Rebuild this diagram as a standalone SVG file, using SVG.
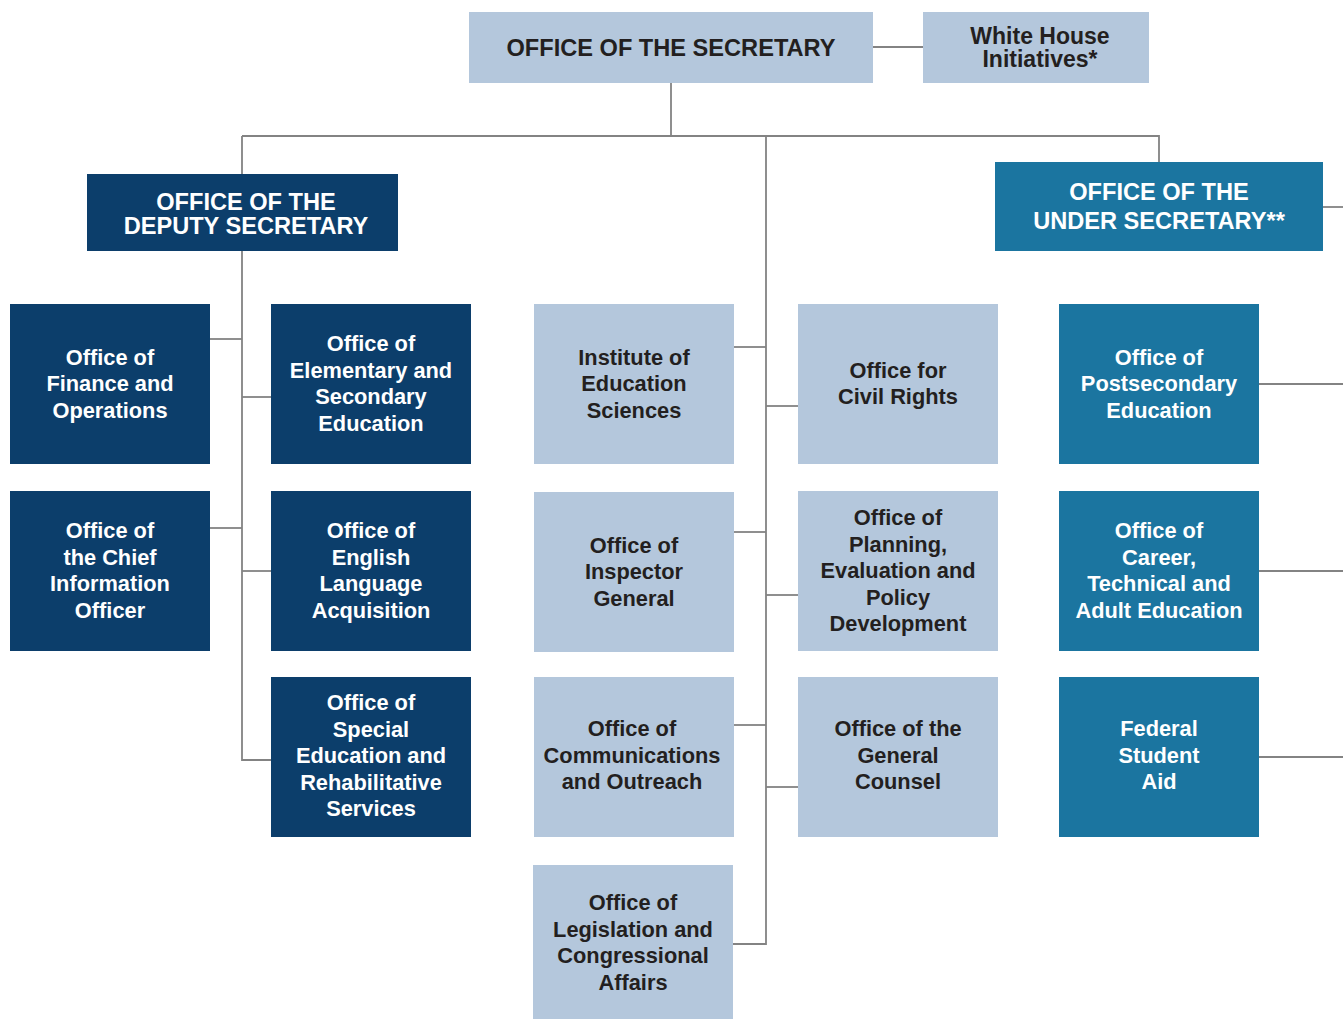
<svg xmlns="http://www.w3.org/2000/svg" width="1343" height="1019" viewBox="0 0 1343 1019">
<style>
.light{fill:#b4c7dc}
.navy{fill:#0c3e6b}
.teal{fill:#1b75a0}
text{font-family:"Liberation Sans",Arial,sans-serif;font-weight:bold;text-anchor:middle}
.n{font-size:21.8px}
.t{font-size:23.6px}
.dk{fill:#231f20}
.wt{fill:#ffffff}
.c{stroke:#838383;stroke-width:1.8;fill:none}
</style>
<rect width="1343" height="1019" fill="#ffffff"/>
<g id="connectors" class="c">
<path d="M873 47H923"/>
<path d="M671 83V136"/>
<path d="M242 136H1159V162"/>
<path d="M242 136V760H271"/>
<path d="M766 136V944H733"/>
<path d="M1323 207H1343"/>
<path d="M210 339H242"/>
<path d="M242 397H271"/>
<path d="M210 528H242"/>
<path d="M242 571H271"/>
<path d="M734 347H766"/>
<path d="M766 406H798"/>
<path d="M734 532H766"/>
<path d="M766 595H798"/>
<path d="M734 725H766"/>
<path d="M766 787H798"/>
<path d="M1259 384H1343"/>
<path d="M1259 571H1343"/>
<path d="M1259 757H1343"/>
</g>
<g id="secretary"><rect class="light" x="469" y="12" width="404" height="71"/><text class="t dk" x="671" y="55.5">OFFICE OF THE SECRETARY</text></g>
<g id="white-house"><rect class="light" x="923" y="12" width="226" height="71"/><text class="dk" style="font-size:23px"><tspan x="1040" y="43.5">White House</tspan><tspan x="1040" y="67">Initiatives*</tspan></text></g>
<g id="deputy"><rect class="navy" x="87" y="174" width="311" height="77"/><text class="t wt"><tspan x="246" y="210">OFFICE OF THE</tspan><tspan x="246" y="234">DEPUTY SECRETARY</tspan></text></g>
<g id="under"><rect class="teal" x="995" y="162" width="328" height="89"/><text class="t wt"><tspan x="1159" y="199.5">OFFICE OF THE</tspan><tspan x="1159" y="229">UNDER SECRETARY**</tspan></text></g>
<g id="finance"><rect class="navy" x="10" y="304" width="200" height="160"/><text class="n wt"><tspan x="110" y="364.5">Office of</tspan><tspan x="110" y="391">Finance and</tspan><tspan x="110" y="417.5">Operations</tspan></text></g>
<g id="elementary"><rect class="navy" x="271" y="304" width="200" height="160"/><text class="n wt"><tspan x="371" y="351.25">Office of</tspan><tspan x="371" y="377.75">Elementary and</tspan><tspan x="371" y="404.25">Secondary</tspan><tspan x="371" y="430.75">Education</tspan></text></g>
<g id="cio"><rect class="navy" x="10" y="491" width="200" height="160"/><text class="n wt"><tspan x="110" y="538.25">Office of</tspan><tspan x="110" y="564.75">the Chief</tspan><tspan x="110" y="591.25">Information</tspan><tspan x="110" y="617.75">Officer</tspan></text></g>
<g id="english"><rect class="navy" x="271" y="491" width="200" height="160"/><text class="n wt"><tspan x="371" y="538.25">Office of</tspan><tspan x="371" y="564.75">English</tspan><tspan x="371" y="591.25">Language</tspan><tspan x="371" y="617.75">Acquisition</tspan></text></g>
<g id="special-ed"><rect class="navy" x="271" y="677" width="200" height="160"/><text class="n wt"><tspan x="371" y="710">Office of</tspan><tspan x="371" y="736.5">Special</tspan><tspan x="371" y="763">Education and</tspan><tspan x="371" y="789.5">Rehabilitative</tspan><tspan x="371" y="816">Services</tspan></text></g>
<g id="ies"><rect class="light" x="534" y="304" width="200" height="160"/><text class="n dk"><tspan x="634" y="364.5">Institute of</tspan><tspan x="634" y="391">Education</tspan><tspan x="634" y="417.5">Sciences</tspan></text></g>
<g id="civil-rights"><rect class="light" x="798" y="304" width="200" height="160"/><text class="n dk"><tspan x="898" y="377.75">Office for</tspan><tspan x="898" y="404.25">Civil Rights</tspan></text></g>
<g id="oig"><rect class="light" x="534" y="492" width="200" height="160"/><text class="n dk"><tspan x="634" y="552.5">Office of</tspan><tspan x="634" y="579">Inspector</tspan><tspan x="634" y="605.5">General</tspan></text></g>
<g id="opepd"><rect class="light" x="798" y="491" width="200" height="160"/><text class="n dk"><tspan x="898" y="525">Office of</tspan><tspan x="898" y="551.5">Planning,</tspan><tspan x="898" y="578">Evaluation and</tspan><tspan x="898" y="604.5">Policy</tspan><tspan x="898" y="631">Development</tspan></text></g>
<g id="communications"><rect class="light" x="534" y="677" width="200" height="160"/><text class="n dk"><tspan x="632" y="736">Office of</tspan><tspan x="632" y="762.5">Communications</tspan><tspan x="632" y="789">and Outreach</tspan></text></g>
<g id="general-counsel"><rect class="light" x="798" y="677" width="200" height="160"/><text class="n dk"><tspan x="898" y="736">Office of the</tspan><tspan x="898" y="762.5">General</tspan><tspan x="898" y="789">Counsel</tspan></text></g>
<g id="legislation"><rect class="light" x="533" y="865" width="200" height="154"/><text class="n dk"><tspan x="633" y="910">Office of</tspan><tspan x="633" y="936.5">Legislation and</tspan><tspan x="633" y="963">Congressional</tspan><tspan x="633" y="989.5">Affairs</tspan></text></g>
<g id="postsecondary"><rect class="teal" x="1059" y="304" width="200" height="160"/><text class="n wt"><tspan x="1159" y="364.5">Office of</tspan><tspan x="1159" y="391">Postsecondary</tspan><tspan x="1159" y="417.5">Education</tspan></text></g>
<g id="career"><rect class="teal" x="1059" y="491" width="200" height="160"/><text class="n wt"><tspan x="1159" y="538.25">Office of</tspan><tspan x="1159" y="564.75">Career,</tspan><tspan x="1159" y="591.25">Technical and</tspan><tspan x="1159" y="617.75">Adult Education</tspan></text></g>
<g id="fsa"><rect class="teal" x="1059" y="677" width="200" height="160"/><text class="n wt"><tspan x="1159" y="736">Federal</tspan><tspan x="1159" y="762.5">Student</tspan><tspan x="1159" y="789">Aid</tspan></text></g>
</svg>
